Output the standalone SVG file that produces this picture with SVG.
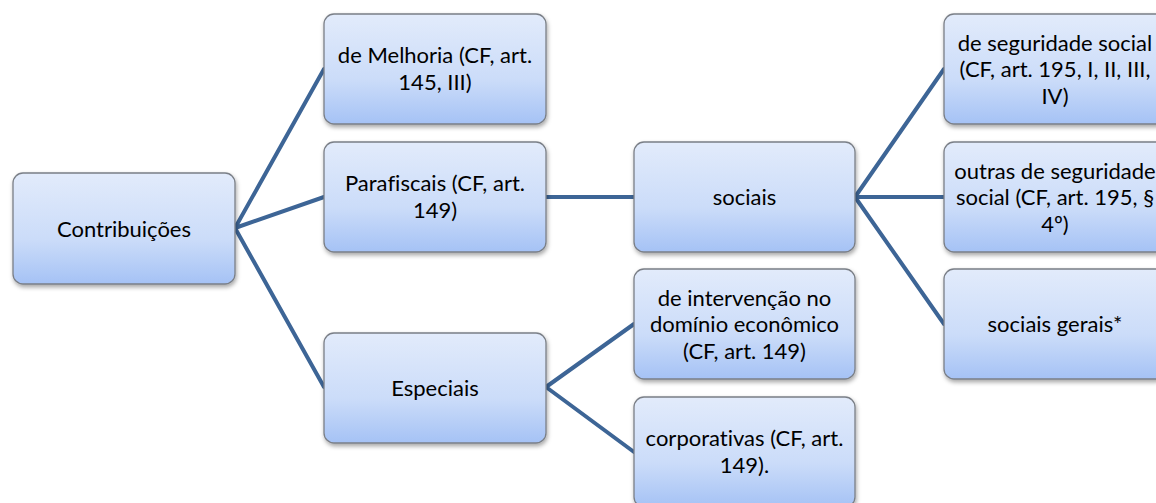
<svg xmlns="http://www.w3.org/2000/svg" width="1156" height="503" viewBox="0 0 1156 503">
<style>
.box{fill:url(#g);stroke:#7a7f87;stroke-width:1.3;filter:url(#sh)}
.t{font-family:Lato,"Liberation Sans",sans-serif;font-size:22px;fill:#000;text-anchor:middle;font-variant-ligatures:none}
.c{stroke:#3d6596;stroke-width:4;fill:none;stroke-linecap:round}
</style>
<defs>
<linearGradient id="g" x1="0" y1="0" x2="0" y2="1">
<stop offset="0" stop-color="#e2ebfb"/>
<stop offset="0.6" stop-color="#cbdcf9"/>
<stop offset="1" stop-color="#a5c2f5"/>
</linearGradient>
<filter id="sh" x="-10%" y="-10%" width="130%" height="140%">
<feDropShadow dx="1" dy="2.5" stdDeviation="2" flood-color="#000" flood-opacity="0.35"/>
</filter>
</defs>
<rect width="1156" height="503" fill="#fff"/>
<g id="connectors">
<path class="c" d="M235 228 L324 69 M235 228 L324 197 M235 228 L324 387"/>
<path class="c" d="M546 197 L634 197"/>
<path class="c" d="M546 387 L634 324 M546 387 L634 452"/>
<path class="c" d="M855 197 L944 69 M855 197 L944 197 M855 197 L944 324"/>
</g>
<g id="n-contribuicoes"><rect class="box" x="13" y="173" width="222" height="111" rx="10"/><text class="t" x="124" y="236.5">Contribuições</text></g>
<g id="n-melhoria"><rect class="box" x="324" y="14" width="222" height="110" rx="10"/><text class="t" x="435" y="63">de Melhoria (CF, art.</text><text class="t" x="435" y="90">145, III)</text></g>
<g id="n-parafiscais"><rect class="box" x="324" y="142" width="222" height="110" rx="10"/><text class="t" x="435" y="191">Parafiscais (CF, art.</text><text class="t" x="435" y="218">149)</text></g>
<g id="n-especiais"><rect class="box" x="324" y="333" width="222" height="110" rx="10"/><text class="t" x="435" y="396">Especiais</text></g>
<g id="n-sociais"><rect class="box" x="634" y="142" width="221" height="110" rx="10"/><text class="t" x="744.5" y="205">sociais</text></g>
<g id="n-intervencao"><rect class="box" x="634" y="269" width="221" height="110" rx="10"/><text class="t" x="744.5" y="305.5">de intervenção no</text><text class="t" x="744.5" y="332">domínio econômico</text><text class="t" x="744.5" y="358.5">(CF, art. 149)</text></g>
<g id="n-corporativas"><rect class="box" x="634" y="397" width="221" height="110" rx="10"/><text class="t" x="744.5" y="446">corporativas (CF, art.</text><text class="t" x="744.5" y="473">149).</text></g>
<g id="n-seguridade"><rect class="box" x="944" y="14" width="222" height="110" rx="10"/><text class="t" x="1055" y="50.5">de seguridade social</text><text class="t" x="1055" y="77">(CF, art. 195, I, II, III,</text><text class="t" x="1055" y="103.5">IV)</text></g>
<g id="n-outras"><rect class="box" x="944" y="142" width="222" height="110" rx="10"/><text class="t" x="1055" y="178.5">outras de seguridade</text><text class="t" x="1055" y="205">social (CF, art. 195, §</text><text class="t" x="1055" y="231.5">4º)</text></g>
<g id="n-gerais"><rect class="box" x="944" y="269" width="222" height="110" rx="10"/><text class="t" x="1055" y="332">sociais gerais*</text></g>
</svg>
